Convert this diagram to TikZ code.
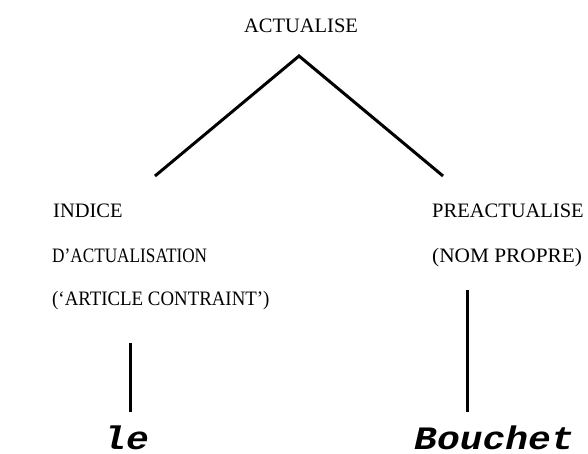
\documentclass[tikz,border=0pt]{standalone}
\usepackage{fontspec}
\usepackage{graphicx}
\setmainfont{Liberation Serif}
\newfontfamily\wordfont{Liberation Mono}
\begin{document}
\begin{tikzpicture}[x=1pt,y=-1pt,
  label/.style={inner sep=0pt, anchor=base west, font=\fontsize{20.5}{24}\selectfont},
  word/.style={inner sep=0pt, anchor=base west, font=\fontsize{38}{42}\wordfont\bfseries\itshape},
  branch/.style={line width=3pt}]
\useasboundingbox (0,0) rectangle (588,454);

% category labels
\node[label, anchor=base] (root) at (301,33) {ACTUALISE};
\node[label] (ind1) at (53,218) {INDICE};
\node[label] (ind2) at (52,262) {\scalebox{0.84}[1]{D’ACTUALISATION}};
\node[label] (ind3) at (52,305) {\scalebox{0.92}[1]{(‘ARTICLE CONTRAINT’)}};
\node[label] (pre1) at (432,218) {PREACTUALISE};
\node[label] (pre2) at (432,262) {\scalebox{1.04}[1]{(NOM PROPRE)}};

% terminal words
\node[word] (le) at (103,449) {\scalebox{1}[0.86]{le}};
\node[word] (bouchet) at (414,449) {\scalebox{1}[0.86]{Bouchet}};

% branch end points
\coordinate (apex) at (299,56);
\coordinate (lefttip) at (155,176);
\coordinate (righttip) at (443,176);
\coordinate (letop) at (130.5,343);
\coordinate (lebot) at (130.5,412);
\coordinate (bttop) at (467,290);
\coordinate (btbot) at (467,412);

\draw[branch] (lefttip) -- (apex) -- (righttip);
\draw[branch] (letop) -- (lebot);
\draw[branch] (bttop) -- (btbot);
\end{tikzpicture}
\end{document}
